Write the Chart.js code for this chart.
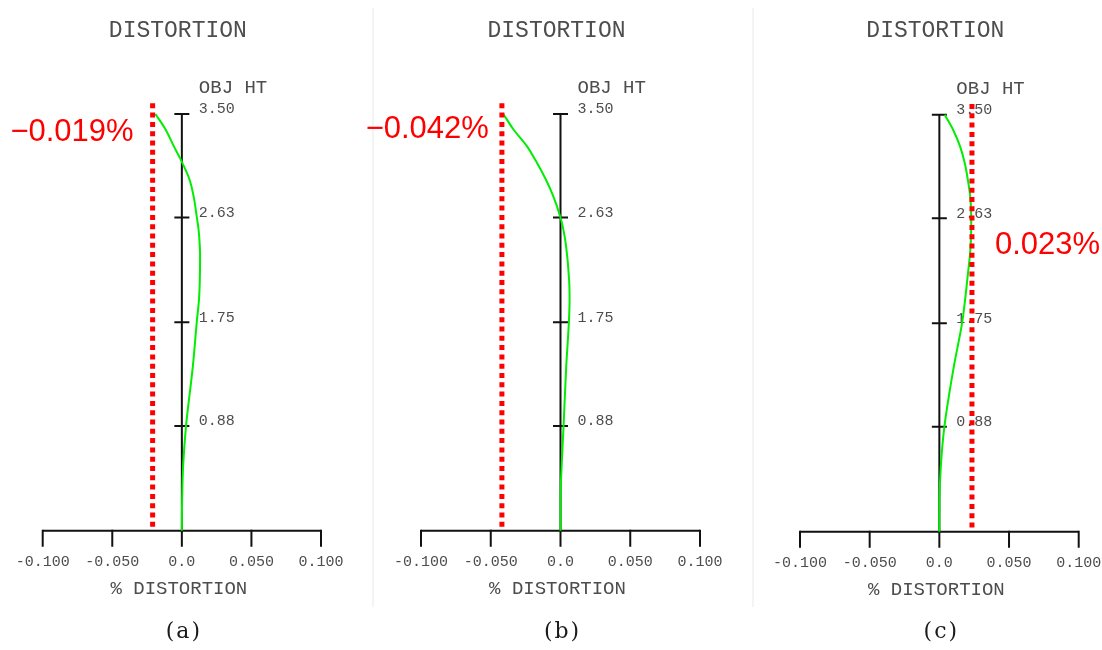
<!DOCTYPE html>
<html>
<head>
<meta charset="utf-8">
<script src="https://cdn.jsdelivr.net/npm/chart.js@4.4.0/dist/chart.umd.min.js"></script>
<style>
  html, body { margin: 0; padding: 0; background: #ffffff; }
  #wrap { position: relative; width: 1102px; height: 650px; background: #ffffff; }
  #wrap canvas { position: absolute; left: 0; top: 0; }
</style>
</head>
<body>
<div id="wrap">
  <canvas id="c0" width="1102" height="650"></canvas>
  <canvas id="c1" width="1102" height="650"></canvas>
  <canvas id="c2" width="1102" height="650"></canvas>
</div>
<script>
// ---------- DATA ----------
const panelCaptions = ['(a)', '(b)', '(c)'];
const titleText = 'DISTORTION';
const yAxisTitle = 'OBJ HT';
const xAxisTitle = '% DISTORTION';

const xTicks = [-0.1, -0.05, 0, 0.05, 0.1];
const xTickLabels = ['-0.100', '-0.050', '0.0', '0.050', '0.100'];
const yTicks = [0.88, 1.75, 2.63, 3.50];
const yTickLabels = ['0.88', '1.75', '2.63', '3.50'];

// object height (field) and % distortion for each panel
const objHtA = [0, 0.26, 0.54, 0.88, 1.38, 1.75, 1.94, 2.10, 2.30, 2.39, 2.53, 2.63, 2.80, 2.95, 3.11, 3.23, 3.37, 3.50];
const distA  = [0, 0.0002, 0.0009, 0.0030, 0.0079, 0.0107, 0.0123, 0.0129, 0.0131, 0.0129, 0.0120, 0.0108, 0.0086, 0.0055, -0.0005, -0.0058, -0.0117, -0.019];

const objHtB = [0, 0.26, 0.54, 0.88, 1.38, 1.75, 1.94, 2.10, 2.39, 2.52, 2.63, 2.81, 2.95, 3.09, 3.23, 3.37, 3.50];
const distB  = [0, 0.0000, 0.0008, 0.0022, 0.0041, 0.0060, 0.0065, 0.0062, 0.0040, 0.0022, 0.0, -0.0052, -0.0105, -0.0169, -0.0241, -0.0337, -0.041];

const objHtC = [0, 0.26, 0.54, 0.88, 1.38, 1.75, 1.94, 2.11, 2.39, 2.63, 2.81, 2.95, 3.09, 3.23, 3.37, 3.50];
const distC  = [0, 0.0001, 0.0010, 0.0036, 0.0103, 0.0163, 0.0184, 0.0200, 0.0224, 0.0229, 0.0222, 0.0205, 0.0183, 0.0150, 0.0100, 0.0038];

// red dotted marker lines and their labels
const markerValues = [-0.021, -0.042, 0.0234];
const markerLabels = ['\u22120.019%', '\u22120.042%', '0.023%'];
const markerSpan = [0.02, 3.59];

// ---------- LAYOUT ----------
const W = 1102, H = 650;
const panels = [
  { x0: 42.7, x1: 321.0, yTop: 114.0, yBase: 530.7, labelSide: 'left',  labelDx: -19, labelY: 140.5 },
  { x0: 421.0, x1: 700.0, yTop: 114.0, yBase: 530.7, labelSide: 'left',  labelDx: -13, labelY: 138.0 },
  { x0: 800.0, x1: 1078.7, yTop: 114.7, yBase: 531.7, labelSide: 'right', labelDx: 23,  labelY: 254.0 }
];
const curves = [[objHtA, distA], [objHtB, distB], [objHtC, distC]];

const MONO = "'Courier New', 'Liberation Mono', monospace";
const TXT = '#4d4d4d';

function makePlugin(i) {
  return {
    id: 'deco' + i,
    beforeDatasetsDraw(chart) {
      const ctx = chart.ctx;
      const xs = chart.scales.x, ys = chart.scales.y;
      const zx = xs.getPixelForValue(0);
      const base = ys.getPixelForValue(0);
      const top = ys.getPixelForValue(3.5);
      ctx.save();

      if (i === 0) {
        ctx.strokeStyle = '#f0f0f0';
        ctx.lineWidth = 1.5;
        [373, 753].forEach(sx => {
          ctx.beginPath(); ctx.moveTo(sx, 8); ctx.lineTo(sx, 607); ctx.stroke();
        });
      }

      ctx.strokeStyle = '#111111';
      ctx.lineWidth = 2;
      ctx.beginPath();
      ctx.moveTo(zx, top); ctx.lineTo(zx, base);
      ctx.moveTo(xs.getPixelForValue(-0.1), base); ctx.lineTo(xs.getPixelForValue(0.1), base);
      ctx.stroke();
      ctx.beginPath();
      xTicks.forEach(v => {
        const px = xs.getPixelForValue(v);
        ctx.moveTo(px, base - 1); ctx.lineTo(px, base + 16);
      });
      yTicks.forEach(v => {
        const py = ys.getPixelForValue(v);
        ctx.moveTo(zx - 7.5, py); ctx.lineTo(zx + 7.5, py);
      });
      ctx.stroke();

      ctx.fillStyle = TXT;
      ctx.font = '15px ' + MONO;
      ctx.textAlign = 'center';
      ctx.textBaseline = 'middle';
      xTicks.forEach((v, k) => {
        ctx.fillText(xTickLabels[k], xs.getPixelForValue(v), base + 31.5);
      });
      ctx.textAlign = 'left';
      yTicks.forEach((v, k) => {
        ctx.fillText(yTickLabels[k], zx + 17, ys.getPixelForValue(v) - 4.5);
      });

      ctx.font = '19px ' + MONO;
      ctx.textAlign = 'left';
      ctx.fillText(yAxisTitle, zx + 17, top - 26);
      ctx.textAlign = 'center';
      ctx.fillText(xAxisTitle, zx - 3, base + 58);

      ctx.font = '23px ' + MONO;
      ctx.fillText(titleText, zx - 4, 31);

      ctx.fillStyle = '#1a1a1a';
      ctx.font = "22px 'DejaVu Serif', 'Liberation Serif', serif";
      ctx.letterSpacing = '2px';
      ctx.fillText(panelCaptions[i], zx + 2, 632);
      ctx.letterSpacing = '0px';

      const p = panels[i];
      const mx = xs.getPixelForValue(markerValues[i]);
      ctx.fillStyle = '#ff0000';
      ctx.font = "31px 'Liberation Sans', Arial, sans-serif";
      ctx.textBaseline = 'alphabetic';
      ctx.textAlign = p.labelSide === 'left' ? 'right' : 'left';
      ctx.fillText(markerLabels[i], mx + p.labelDx, p.labelY);

      ctx.restore();
    }
  };
}

const charts = panels.map((p, i) => {
  const [hs, ds] = curves[i];
  const curve = hs.map((h, k) => ({ x: ds[k], y: h }));
  const marker = [
    { x: markerValues[i], y: markerSpan[1] },
    { x: markerValues[i], y: markerSpan[0] }
  ];
  return new Chart(document.getElementById('c' + i), {
    type: 'scatter',
    data: {
      datasets: [
        {
          label: 'marker',
          data: marker,
          showLine: true,
          borderColor: '#ff0000',
          borderWidth: 5,
          borderDash: [5, 4.3],
          borderCapStyle: 'butt',
          pointRadius: 0,
          clip: false
        },
        {
          label: 'distortion',
          data: curve,
          showLine: true,
          borderColor: '#00ee00',
          borderWidth: 2,
          cubicInterpolationMode: 'monotone',
          capBezierPoints: false,
          pointRadius: 0,
          clip: false
        }
      ]
    },
    options: {
      indexAxis: 'y',
      responsive: false,
      animation: false,
      devicePixelRatio: 1,
      layout: { padding: { left: p.x0, right: W - p.x1, top: p.yTop, bottom: H - p.yBase } },
      plugins: { legend: { display: false }, tooltip: { enabled: false }, title: { display: false } },
      scales: {
        x: { type: 'linear', min: -0.1, max: 0.1, display: false },
        y: { type: 'linear', min: 0, max: 3.5, display: false }
      },
      events: []
    },
    plugins: [makePlugin(i)]
  });
});
</script>
</body>
</html>
